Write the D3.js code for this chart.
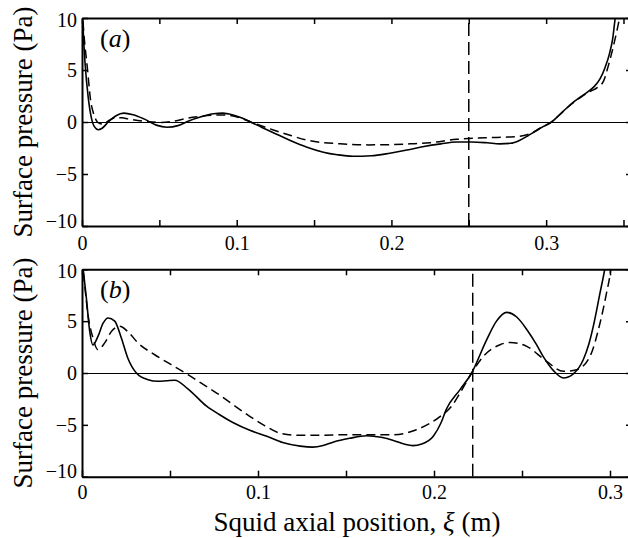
<!DOCTYPE html>
<html>
<head>
<meta charset="utf-8">
<script src="https://cdn.jsdelivr.net/npm/d3@7"></script>
<style>
  body { margin: 0; background: #fff; }
  svg { display: block; }
</style>
</head>
<body>
<div id="chart"></div>
<script>
// panel (a) : solid and dashed pressure curves
var aSolidX = [0, 0.002, 0.004, 0.006, 0.008, 0.0105, 0.013, 0.017, 0.022, 0.027, 0.033, 0.040, 0.048, 0.055, 0.062, 0.069, 0.077, 0.085, 0.091, 0.097, 0.103, 0.109, 0.116, 0.124, 0.135, 0.145, 0.156, 0.165, 0.175, 0.187, 0.199, 0.210, 0.221, 0.232, 0.242, 0.252, 0.262, 0.270, 0.277, 0.283, 0.288, 0.293, 0.298, 0.3035, 0.308, 0.313, 0.318, 0.322, 0.326, 0.331, 0.335, 0.338, 0.341, 0.343, 0.3447, 0.346]
var aSolidY = [11, 5.6, 2.4, 0.45, -0.45, -0.75, -0.6, 0.0, 0.6, 0.85, 0.7, 0.3, -0.3, -0.5, -0.35, 0.1, 0.5, 0.8, 0.85, 0.7, 0.4, 0.0, -0.5, -1.05, -1.8, -2.4, -2.9, -3.15, -3.3, -3.25, -3.0, -2.7, -2.35, -2.1, -1.93, -1.92, -2.0, -2.1, -2.05, -1.75, -1.35, -0.9, -0.45, 0.0, 0.6, 1.3, 1.95, 2.4, 2.8, 3.4, 4.2, 5.2, 6.6, 8.0, 10.0, 11]
var aDashX = [0, 0.0015, 0.0034, 0.0056, 0.0075, 0.0093, 0.0115, 0.0136, 0.017, 0.021, 0.026, 0.0297, 0.036, 0.043, 0.0513, 0.060, 0.0685, 0.077, 0.085, 0.091, 0.097, 0.103, 0.109, 0.1237, 0.135, 0.145, 0.1668, 0.185, 0.199, 0.212, 0.225, 0.242, 0.2637, 0.275, 0.284, 0.290, 0.296, 0.3035, 0.308, 0.313, 0.318, 0.323, 0.328, 0.333, 0.337, 0.340, 0.343, 0.3455, 0.3475, 0.349]
var aDashY = [11, 8.0, 5.3, 2.05, 0.8, 0.13, -0.15, -0.2, 0.1, 0.38, 0.4, 0.3, 0.15, 0.02, -0.05, 0.1, 0.38, 0.55, 0.65, 0.68, 0.6, 0.35, 0.0, -0.77, -1.3, -1.73, -2.1, -2.2, -2.18, -2.1, -1.99, -1.67, -1.5, -1.45, -1.35, -1.1, -0.6, 0.0, 0.6, 1.3, 1.9, 2.45, 2.9, 3.3, 3.9, 5.3, 7.0, 8.6, 10.0, 11]
var aMarker = 0.25

// panel (b)
var bSolidX = [0, 0.001, 0.0025, 0.0044, 0.0062, 0.009, 0.012, 0.0148, 0.0186, 0.0223, 0.026, 0.0309, 0.0375, 0.0432, 0.048, 0.0527, 0.060, 0.0708, 0.078, 0.086, 0.095, 0.105, 0.114, 0.124, 0.131, 0.137, 0.143, 0.152, 0.1617, 0.170, 0.177, 0.183, 0.188, 0.193, 0.1996, 0.204, 0.207, 0.2148, 0.2214, 0.2299, 0.2355, 0.2413, 0.247, 0.2527, 0.258, 0.262, 0.268, 0.2735, 0.279, 0.2848, 0.288, 0.2905, 0.2943, 0.297, 0.298]
var bSolidY = [11, 9.5, 7.2, 4.0, 2.7, 3.5, 4.8, 5.3, 5.0, 3.4, 1.45, 0.0, -0.65, -0.8, -0.75, -0.7, -1.5, -3.2, -4.0, -4.8, -5.5, -6.1, -6.7, -7.05, -7.15, -7.0, -6.65, -6.3, -6.05, -6.2, -6.5, -6.85, -7.0, -6.85, -6.1, -4.8, -3.5, -1.6, 0.0, 3.2, 5.0, 5.85, 5.4, 4.2, 2.8, 1.6, 0.2, -0.48, -0.1, 1.28, 2.8, 4.5, 7.7, 10.0, 11]
var bDashX = [0, 0.0015, 0.0034, 0.0062, 0.009, 0.0129, 0.0167, 0.0214, 0.026, 0.0318, 0.0413, 0.0507, 0.0602, 0.068, 0.0765, 0.0955, 0.104, 0.1125, 0.122, 0.135, 0.150, 0.165, 0.177, 0.19, 0.2034, 0.21, 0.2148, 0.2214, 0.228, 0.2375, 0.2432, 0.2527, 0.264, 0.2735, 0.281, 0.2886, 0.2943, 0.298, 0.3004, 0.301]
var bDashY = [11, 8.5, 5.6, 3.4, 2.25, 2.9, 4.0, 4.5, 4.0, 2.9, 1.76, 0.8, -0.16, -1.0, -1.93, -4.2, -5.1, -5.8, -6.0, -6.0, -5.95, -5.95, -5.95, -5.47, -4.2, -3.2, -1.93, 0.0, 1.6, 2.73, 2.95, 2.57, 1.12, 0.16, 0.32, 1.6, 4.8, 7.7, 10.0, 11]
var bMarker = 0.222

var yTicks = [10, 5, 0, -5, -10]

var W = 628, H = 538
var left = 82, right = 632
var font = "'Liberation Serif', 'Times New Roman', serif"

var svg = d3.select('#chart').append('svg')
  .attr('width', W)
  .attr('height', H)
  .style('font-family', font)

function zip(xs, ys) {
  return xs.map(function (d, i) { return [d, ys[i]] })
}

function panel(opt) {
  var x = d3.scaleLinear().domain([0, opt.xmax]).range([left, right])
  var y = d3.scaleLinear().domain([-10, 10]).range([opt.bottom, opt.top])

  var g = svg.append('g')

  g.append('clipPath').attr('id', 'clip' + opt.id)
    .append('rect')
    .attr('x', left).attr('y', opt.top)
    .attr('width', right - left).attr('height', opt.bottom - opt.top)

  var xt = d3.range(0, opt.xmax + 1e-9, 0.05)
  var fmt = function (d) {
    var k = Math.round(d * 100)
    return k % 10 === 0 ? (k === 0 ? '0' : d3.format('.1f')(d)) : ''
  }

  // bottom
  g.append('g')
    .attr('transform', 'translate(0,' + opt.bottom + ')')
    .call(d3.axisBottom(x).tickValues(xt).tickFormat(fmt)
      .tickSizeInner(-6).tickSizeOuter(0).tickPadding(opt.pad))
  // top
  g.append('g')
    .attr('transform', 'translate(0,' + opt.top + ')')
    .call(d3.axisTop(x).tickValues(xt).tickFormat('')
      .tickSizeInner(-6).tickSizeOuter(0))
  // left
  var al = g.append('g')
    .attr('transform', 'translate(' + left + ',0)')
    .call(d3.axisLeft(y).tickValues(yTicks)
      .tickSizeInner(-6).tickSizeOuter(0).tickPadding(5))
  // right
  g.append('g')
    .attr('transform', 'translate(' + right + ',0)')
    .call(d3.axisRight(y).tickValues(yTicks).tickFormat('')
      .tickSizeInner(-6).tickSizeOuter(0))

  g.selectAll('.domain').attr('stroke', '#000').attr('stroke-width', 2)
  g.selectAll('.tick line').attr('stroke', '#000').attr('stroke-width', 1.5)
  g.selectAll('.tick text')
    .attr('fill', '#000')
    .style('font-family', font)
    .style('font-size', '20px')
  al.selectAll('.tick text').attr('dy', function (d) {
    return d === -10 ? '0.05em' : d === 10 ? '0.4em' : '0.32em'
  })

  var plot = g.append('g').attr('clip-path', 'url(#clip' + opt.id + ')')

  // zero line
  plot.append('line')
    .attr('x1', left).attr('x2', right)
    .attr('y1', Math.round(y(0)) + 0.5).attr('y2', Math.round(y(0)) + 0.5)
    .attr('stroke', '#000').attr('stroke-width', 1.1)

  // station marker
  plot.append('line')
    .attr('x1', x(opt.marker)).attr('x2', x(opt.marker))
    .attr('y1', opt.bottom).attr('y2', opt.top)
    .attr('stroke', '#000').attr('stroke-width', 1.5)
    .attr('stroke-dasharray', '13,6')

  var line = d3.line()
    .x(function (d) { return x(d[0]) })
    .y(function (d) { return y(d[1]) })
    .curve(d3.curveMonotoneX)

  plot.append('path')
    .datum(zip(opt.dx, opt.dy))
    .attr('fill', 'none').attr('stroke', '#000')
    .attr('stroke-width', 1.5)
    .attr('stroke-dasharray', '9,5')
    .attr('d', line)

  plot.append('path')
    .datum(zip(opt.sx, opt.sy))
    .attr('fill', 'none').attr('stroke', '#000')
    .attr('stroke-width', 1.6)
    .attr('d', line)

  // panel tag
  var tag = g.append('text')
    .attr('x', 100).attr('y', opt.top + 29)
    .style('font-size', '26px')
  tag.append('tspan').text('(')
  tag.append('tspan').style('font-style', 'italic').text(opt.id)
  tag.append('tspan').text(')')

  // y label
  g.append('text')
    .attr('transform', 'translate(32,' + (opt.top + opt.bottom) / 2 + ') rotate(-90)')
    .attr('text-anchor', 'middle')
    .style('font-size', '27px')
    .text('Surface pressure (Pa)')
}

panel({ id: 'a', top: 18, bottom: 226, xmax: 0.3555, pad: 10,
  sx: aSolidX, sy: aSolidY, dx: aDashX, dy: aDashY, marker: aMarker })
panel({ id: 'b', top: 269.3, bottom: 476.7, xmax: 0.3125, pad: 8,
  sx: bSolidX, sy: bSolidY, dx: bDashX, dy: bDashY, marker: bMarker })

var xl = svg.append('text')
  .attr('x', (left + right) / 2).attr('y', 530.5)
  .attr('text-anchor', 'middle')
  .style('font-size', '27px')
xl.append('tspan').text('Squid axial position, ')
xl.append('tspan').style('font-style', 'italic').text('ξ')
xl.append('tspan').text(' (m)')
</script>
</body>
</html>
